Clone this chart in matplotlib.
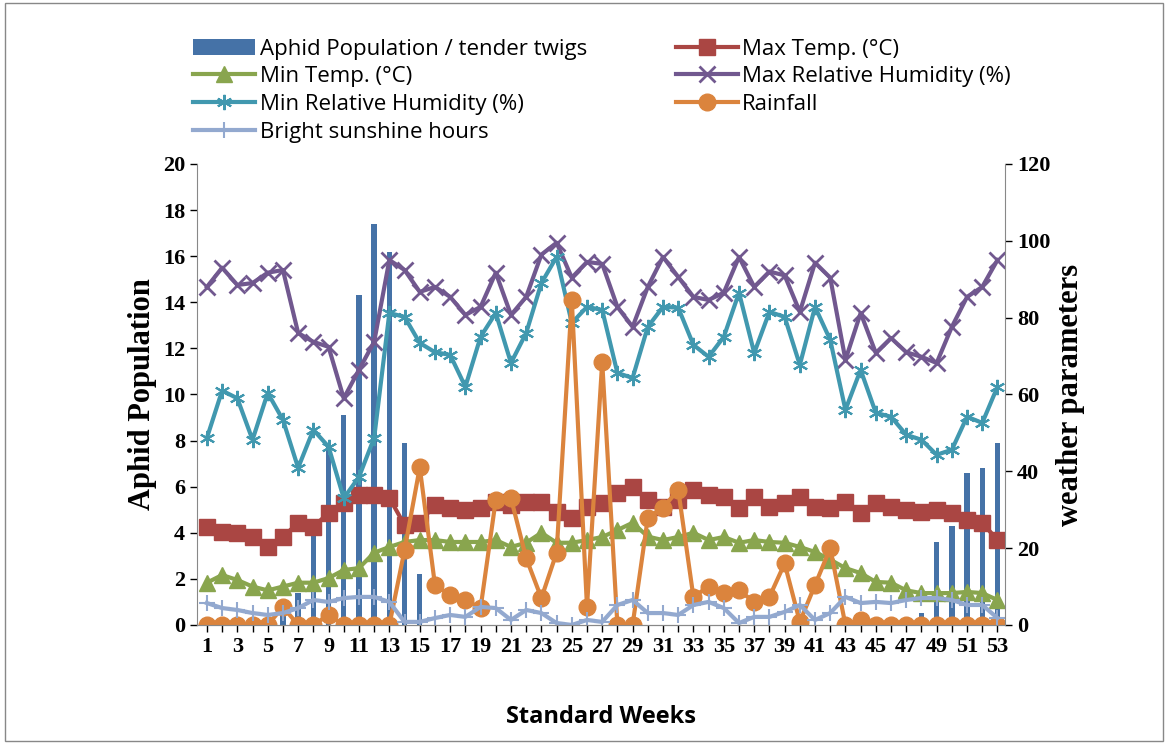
import matplotlib.pyplot as plt
import numpy as np

weeks = list(range(1, 54))
aphid = [0, 0, 0, 0, 0, 0.5, 1.4, 4.0, 7.9, 9.1, 14.3, 17.4, 16.2, 7.9, 2.2,
         0, 0, 0, 0, 0, 0, 0, 0, 0, 0, 0, 0, 0, 0, 0, 0, 0, 0, 0, 0, 0, 0, 0, 0, 0,
         0, 0, 0, 0, 0, 0, 0, 0.5, 3.6, 4.3, 6.6, 6.8, 7.9]
max_temp = [25.5, 24.2, 24, 22.9, 20.3, 22.9, 26.6, 25.5, 29.2, 31.8, 33.9, 33.9, 33.1,
            26, 26.6, 31.3, 30.5, 30, 30.5, 32, 31.3, 32, 32, 29.4, 27.9, 30.7, 31.8,
            34.4, 35.9, 32.6, 30.7, 32.6, 35.2, 33.9, 33.3, 30.5, 33.3, 30.7, 31.8, 33.3,
            30.7, 30.5, 32, 29.2, 31.8, 30.7, 30, 29.4, 30, 29.2, 27.3, 26.6, 22.1]
min_temp = [11, 13, 11.7, 10, 9, 10, 11, 11, 12.2, 14.3, 14.8, 18.8, 20.3, 21.6, 22.1,
            22.1, 21.6, 21.6, 21.6, 22.1, 20.3, 21.4, 24, 21.4, 21.4, 22.1, 22.9, 24.7,
            26.6, 23, 22.1, 22.9, 24, 22.1, 22.9, 21.4, 22.1, 21.6, 21.4, 20.3, 19, 17,
            14.8, 13.5, 11.2, 11, 9, 8.3, 8.3, 8.3, 8.6, 8.3, 6.5]
max_rh = [88, 93, 88.5, 89, 91.7, 92.4, 76, 73.7, 72.4, 59, 66.4, 73.7, 95, 92.4, 86.7,
          88, 85.4, 80.7, 82.8, 91.7, 80.7, 85.4, 96.4, 99.5, 90.4, 94.5, 94, 82.8, 77.6,
          88, 95.8, 90.6, 85.4, 84.6, 86.5, 95.8, 88, 92, 91, 81.5, 94.3, 90.4, 69, 81.2,
          70.8, 74.7, 71, 69.8, 68.2, 77.6, 85.4, 88, 95]
min_rh = [48.7, 61, 59, 48.2, 60.4, 53.4, 40.9, 50.8, 46.4, 33, 38.5, 48.7, 81.2, 80.2,
          73.4, 71, 70.3, 62, 75, 81.2, 68.2, 76, 89, 95.8, 78.6, 82.8, 82, 65.6, 64.3,
          77.6, 82.8, 82.6, 72.9, 69.8, 75, 86.5, 70.8, 81.5, 80.2, 67.7, 82.8, 74.2, 56,
          66.4, 55.2, 54.2, 49.5, 48.2, 44.3, 45.6, 54.2, 52.6, 62]
rainfall = [0, 0, 0, 0, 0, 4.7, 0, 0, 2.6, 0, 0, 0, 0, 19.5, 41, 10.4, 7.8, 6.5, 4.4,
            32.6, 33, 17.4, 7, 18.8, 84.6, 4.7, 68.5, 0, 0, 27.9, 30.5, 35.2, 7.3, 10,
            8.3, 9, 6, 7.3, 16, 0.8, 10.4, 20, 0, 1.3, 0, 0, 0, 0, 0, 0, 0, 0, 0]
sunshine = [5.7, 4.4, 3.9, 3.1, 2.6, 3.1, 4.4, 6.5, 6, 7, 7.3, 7.3, 6, 0.8, 0.8, 1.8,
            2.6, 2.1, 4.7, 4.4, 1.3, 3.9, 3.1, 0.5, 0, 1.3, 0.8, 5.2, 6.5, 3.1, 3.1, 2.6,
            5.2, 6, 4.4, 0.5, 2.1, 2.1, 3.4, 5.2, 1.3, 3.1, 7.3, 5.7, 6, 5.7, 6.5, 7, 7,
            6.5, 5.2, 5.2, 1.8]

fig = plt.figure(figsize=(11.68, 7.44), dpi=100)
ax = fig.add_axes([0.1687, 0.16, 0.6918, 0.6196])
ax2 = ax.twinx()

bars = ax.bar(weeks, aphid, width=0.35, color='#4572A7', label='Aphid Population / tender twigs')
h1, = ax2.plot(weeks, max_temp, color='#AA4643', marker='s', ms=11, lw=3, label='Max Temp. (\u00b0C)')
h2, = ax2.plot(weeks, min_temp, color='#89A54E', marker='^', ms=11, lw=3, label='Min Temp. (\u00b0C)')
h3, = ax2.plot(weeks, max_rh, color='#71588F', marker='x', ms=11, mew=2, lw=3, label='Max Relative Humidity (%)')
h4, = ax2.plot(weeks, min_rh, color='#4198AF', marker=(6, 2, 0), ms=11, mew=1.5, lw=3, label='Min Relative Humidity (%)')
h5, = ax2.plot(weeks, rainfall, color='#DB843D', marker='o', ms=12, lw=3, label='Rainfall')
h6, = ax2.plot(weeks, sunshine, color='#93A9CF', marker='+', ms=11, mew=1.5, lw=3, label='Bright sunshine hours')

ax.set_xlim(0.35, 53.5)
ax.set_ylim(0, 20)
ax2.set_ylim(0, 120)
ax.set_yticks(range(0, 21, 2))
ax2.set_yticks(range(0, 121, 20))
ax.set_xticks(weeks)
ax.set_xticklabels([str(w) if w % 2 == 1 else '' for w in weeks])

for a in (ax, ax2):
    for s in a.spines.values():
        s.set_color('#888888')
    a.spines['top'].set_visible(False)
    a.tick_params(colors='black', labelsize=16, width=1, length=5)
ax.spines['right'].set_visible(False)
ax2.spines['left'].set_visible(False)
for t in ax.get_xticklabels() + ax.get_yticklabels() + ax2.get_yticklabels():
    t.set_fontfamily('Liberation Serif')
    t.set_fontweight('bold')

ax.set_ylabel('Aphid Population', fontfamily='Liberation Serif', fontweight='bold', fontsize=22)
ax2.set_ylabel('weather parameters', fontfamily='Liberation Serif', fontweight='bold', fontsize=22)
ax.set_xlabel('Standard Weeks', fontfamily='Open Sans', fontweight='bold', fontsize=17, labelpad=35)

handles = [bars, h2, h4, h6, h1, h3, h5]
fig.legend(handles=handles, loc='upper left', bbox_to_anchor=(0.148, 0.975), ncol=2,
           frameon=False, handlelength=2.8, columnspacing=4.0,
           labelspacing=0.3, handletextpad=0.2, prop={'family': 'Open Sans', 'size': 16})

fig.patches.append(plt.Rectangle((0.004, 0.004), 0.992, 0.992, transform=fig.transFigure,
                                 fill=False, edgecolor='#888888', lw=1))
fig.savefig('out.png', dpi=100)
